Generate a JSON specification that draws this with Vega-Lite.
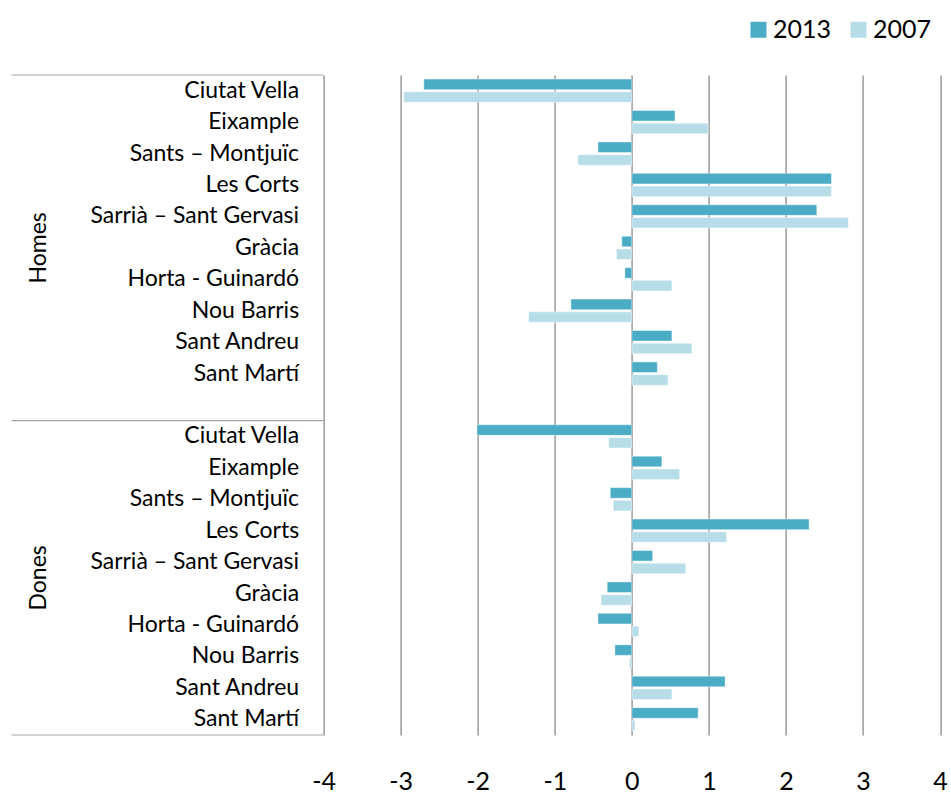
{
  "$schema": "https://vega.github.io/schema/vega-lite/v6.json",
  "width": 616.5,
  "height": 660,
  "autosize": {"type": "none"},
  "padding": {"left": 323.6, "top": 75, "right": 11, "bottom": 60},
  "background": "white",
  "config": {
    "view": {"stroke": null},
    "font": "Lato",
    "axis": {"labelFont": "Lato"},
    "legend": {"labelFont": "Lato"}
  },
  "layer": [
    {
      "data": {
        "values": [
          {"row": "Homes|Ciutat Vella", "2013": -2.70, "2007": -2.96},
          {"row": "Homes|Eixample", "2013": 0.56, "2007": 0.99},
          {"row": "Homes|Sants – Montjuïc", "2013": -0.44, "2007": -0.70},
          {"row": "Homes|Les Corts", "2013": 2.59, "2007": 2.59},
          {"row": "Homes|Sarrià – Sant Gervasi", "2013": 2.40, "2007": 2.81},
          {"row": "Homes|Gràcia", "2013": -0.13, "2007": -0.20},
          {"row": "Homes|Horta - Guinardó", "2013": -0.09, "2007": 0.52},
          {"row": "Homes|Nou Barris", "2013": -0.79, "2007": -1.34},
          {"row": "Homes|Sant Andreu", "2013": 0.52, "2007": 0.78},
          {"row": "Homes|Sant Martí", "2013": 0.33, "2007": 0.47},
          {"row": "Dones|Ciutat Vella", "2013": -2.01, "2007": -0.30},
          {"row": "Dones|Eixample", "2013": 0.39, "2007": 0.62},
          {"row": "Dones|Sants – Montjuïc", "2013": -0.28, "2007": -0.24},
          {"row": "Dones|Les Corts", "2013": 2.30, "2007": 1.23},
          {"row": "Dones|Sarrià – Sant Gervasi", "2013": 0.27, "2007": 0.70},
          {"row": "Dones|Gràcia", "2013": -0.32, "2007": -0.40},
          {"row": "Dones|Horta - Guinardó", "2013": -0.44, "2007": 0.09},
          {"row": "Dones|Nou Barris", "2013": -0.22, "2007": -0.03},
          {"row": "Dones|Sant Andreu", "2013": 1.21, "2007": 0.52},
          {"row": "Dones|Sant Martí", "2013": 0.86, "2007": 0.04}
        ]
      },
      "transform": [{"fold": ["2013", "2007"], "as": ["year", "value"]}],
      "mark": {"type": "bar", "stroke": "white", "strokeWidth": 0.6, "strokeOpacity": 0.7},
      "encoding": {
        "y": {
          "field": "row",
          "type": "nominal",
          "scale": {
            "domain": [
              "Homes|Ciutat Vella", "Homes|Eixample", "Homes|Sants – Montjuïc", "Homes|Les Corts",
              "Homes|Sarrià – Sant Gervasi", "Homes|Gràcia", "Homes|Horta - Guinardó", "Homes|Nou Barris",
              "Homes|Sant Andreu", "Homes|Sant Martí", "Homes|",
              "Dones|Ciutat Vella", "Dones|Eixample", "Dones|Sants – Montjuïc", "Dones|Les Corts",
              "Dones|Sarrià – Sant Gervasi", "Dones|Gràcia", "Dones|Horta - Guinardó", "Dones|Nou Barris",
              "Dones|Sant Andreu", "Dones|Sant Martí"
            ],
            "paddingInner": 0,
            "paddingOuter": 0
          },
          "axis": {
            "title": null,
            "domain": false,
            "ticks": false,
            "grid": false,
            "labelExpr": "split(datum.label, '|')[1]",
            "labelFontSize": 23,
            "labelColor": "#000000",
            "labelPadding": 25,
            "labelLimit": 400,
            "labelBaseline": "middle"
          }
        },
        "yOffset": {
          "field": "year",
          "type": "nominal",
          "scale": {"domain": ["2013", "2007"], "paddingInner": 0.17, "paddingOuter": 0.32}
        },
        "x": {
          "field": "value",
          "type": "quantitative",
          "scale": {"domain": [-4, 4], "nice": false},
          "axis": {
            "title": null,
            "values": [-4, -3, -2, -1, 0, 1, 2, 3, 4],
            "labelExpr": "'' + datum.value",
            "domain": false,
            "ticks": false,
            "grid": true,
            "gridColor": "#9a9a9a",
            "gridWidth": 1.5,
            "labelFontSize": 25,
            "labelColor": "#000000",
            "labelPadding": 35,
            "labelFlush": false
          }
        },
        "color": {
          "field": "year",
          "type": "nominal",
          "scale": {"domain": ["2013", "2007"], "range": ["#4BACC6", "#B7DEE8"]},
          "legend": {
            "title": null,
            "orient": "none",
            "legendX": 422.4,
            "legendY": -58,
            "direction": "horizontal",
            "symbolType": "square",
            "symbolSize": 256,
            "symbolStrokeWidth": 0,
            "symbolOpacity": 1,
            "labelFontSize": 25,
            "labelColor": "#000000",
            "labelOffset": 2,
            "columnPadding": 14,
            "padding": 0
          }
        }
      }
    },
    {
      "data": {"values": [{"row": "Homes|Ciutat Vella"}, {"row": "Dones|Ciutat Vella"}]},
      "mark": {"type": "rule", "color": "#a6a6a6", "strokeWidth": 1.2},
      "encoding": {
        "y": {"field": "row", "type": "nominal", "bandPosition": 0},
        "x": {"datum": -8.05},
        "x2": {"datum": -4}
      }
    },
    {
      "data": {"values": [{"row": "Dones|Sant Martí"}]},
      "mark": {"type": "rule", "color": "#a6a6a6", "strokeWidth": 1.2},
      "encoding": {
        "y": {"field": "row", "type": "nominal", "bandPosition": 1},
        "x": {"datum": -8.05},
        "x2": {"datum": -4}
      }
    },
    {
      "data": {"values": [{"label": "Homes", "row": "Homes|Gràcia"}]},
      "mark": {"type": "text", "angle": 270, "fontSize": 23, "font": "Lato", "color": "#000000", "align": "center", "baseline": "middle"},
      "encoding": {
        "y": {"field": "row", "type": "nominal", "bandPosition": 0.5},
        "x": {"datum": -7.69},
        "text": {"field": "label"}
      }
    },
    {
      "data": {"values": [{"label": "Dones", "row": "Dones|Gràcia"}]},
      "mark": {"type": "text", "angle": 270, "fontSize": 23, "font": "Lato", "color": "#000000", "align": "center", "baseline": "middle"},
      "encoding": {
        "y": {"field": "row", "type": "nominal", "bandPosition": 0},
        "x": {"datum": -7.69},
        "text": {"field": "label"}
      }
    }
  ]
}
